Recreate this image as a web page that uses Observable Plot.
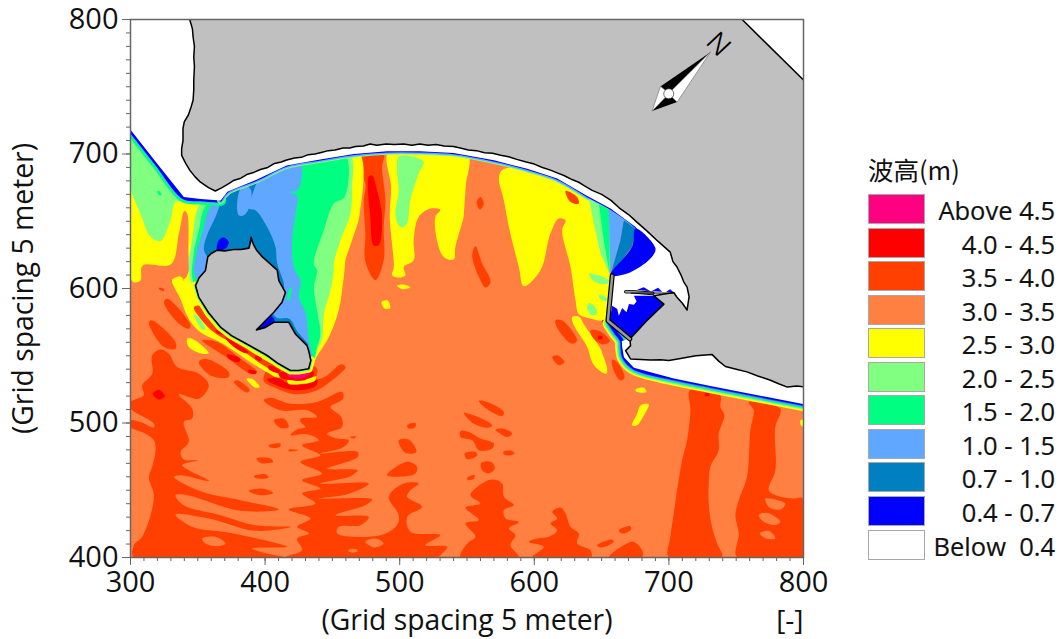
<!DOCTYPE html>
<html><head><meta charset="utf-8">
<script src="https://cdn.jsdelivr.net/npm/d3@7"></script>
<script src="https://cdn.jsdelivr.net/npm/@observablehq/plot@0.6"></script>
<style>
html,body{margin:0;padding:0;background:#fff}
#wrap{position:relative;width:1059px;height:639px;overflow:hidden;font-family:"Open Sans",sans-serif;color:#111}
#legend{position:absolute;left:868px;top:0;width:190px}
#legend .t{position:absolute;left:0;top:150px;font:25.5px "Noto Sans CJK TC","Open Sans",sans-serif;white-space:nowrap}
#legend .s{position:absolute;left:0;width:55px;height:28px;border:1px solid #a8a8a8}
#legend .l{position:absolute;right:3px;font-size:25.5px;line-height:33px;white-space:pre;-webkit-text-stroke:.2px #111}
</style></head><body><div id="wrap"><div id="legend"></div></div>
<script>
// Legend classes (wave height, m)
const legendLabels=["Above 4.5","4.0 - 4.5","3.5 - 4.0","3.0 - 3.5","2.5 - 3.0","2.0 - 2.5","1.5 - 2.0","1.0 - 1.5","0.7 - 1.0","0.4 - 0.7","Below  0.4"];
const legendColors=["#ff0080","#ff0000","#ff4000","#ff8040","#ffff00","#80ff80","#00ff80","#60a8ff","#0080c0","#0000ff","#ffffff"];
const [PINK,RED,ROR,ORG,YEL,LGR,GRN,LBL,DBL,BLU,WHT]=legendColors;
const LAND="#c0c0c0";
const xMajor=[300,400,500,600,700,800], yMajor=[400,500,600,700,800];

// Contour outlines, grid units
const domainBox=[[[300,400],[800,400],[800,800],[300,800]]];
const band35=[
[[322.3,554.7],[328.5,551.5],[334.7,541.6],[350.8,536.7],[358.2,528],[350.8,518.1],[335.9,521.3],[345.8,510.7],[345.8,503.3],[339.6,500.8],[343.3,485.9],[337.2,478.5],[339.6,472.8],[350,472.3],[338.4,468.6],[358.2,457],[337.2,461.2],[332.2,459.9],[353.2,448.8],[381.7,442.6],[410.2,435.7],[381.7,434.7],[342.1,446.3],[333.4,446.3],[339.6,438.9],[366.9,431.5],[392.8,424],[419.3,422.8],[392.8,419.8],[358.2,429],[333.4,432],[345.8,422.8],[376.8,417.9],[416.4,408],[413.9,407.5],[390.4,406.7],[401.5,403],[415.1,400],[302.5,400],[302.5,409.2],[308.7,415.4],[317.4,445.1],[313.6,459.9],[316.1,467.4],[318.6,479.7],[317.4,487.2],[311.2,492.1],[300,497],[300,502],[307.4,500.8],[317.4,496.6],[317.4,499.5],[300,510.7],[300,515.6],[309.9,520.6],[308.7,528],[316.1,536.7],[316.1,550.3]],
[[426.3,503.2],[438.6,504.5],[431.2,509.4],[411.4,509.4],[399,516.9],[404,518.8],[418.8,514.4],[438.6,515.6],[457.2,523],[458,518.1],[448.5,511.9],[456.5,504.5],[457.2,497.1],[446.1,492.1],[453.5,488.4],[462.2,487.2],[458.4,482.2],[441.1,477.3],[468.8,478.5],[468.8,474.8],[446.1,466.1],[463.4,465.6],[468.8,464.9],[463.4,460.4],[441.1,455],[477,455],[460.9,447.1],[439.9,443.8],[479.5,443.1],[474.5,438.9],[452.3,431.5],[477,430.2],[470.8,424],[454.7,422.8],[453.5,417.9],[485.7,416.6],[498,424],[499.3,431.5],[491.9,445.1],[503,455],[514.1,455],[507.9,450],[505.5,445.1],[516.6,437.7],[505.5,430.2],[508,419.1],[530.2,416.6],[519.1,409.2],[535.2,408],[531.5,403],[527.7,400],[415.1,400],[427.5,405.5],[423.8,414.1],[432.5,417.9],[423.8,422.8],[433.7,429],[417.6,435.7],[437.4,440.1],[427.5,447.6],[441.1,451.3],[427.5,457.5],[442.4,462.4],[426.3,471.1],[441.1,476],[427.5,483.4],[439.9,487.2],[431.2,491.6],[418.8,490.9],[423.8,495.1],[430,497],[426.3,500.8]],
[[406.5,502],[413.9,503.3],[417.6,497],[411,496.5]],
[[715.5,524.2],[728.4,524.8],[738.3,520.6],[738.3,511.9],[741.2,505.7],[737,492.1],[737,479.7],[730.8,467.4],[729.6,455],[729.6,440.2],[732,422.8],[735.8,410.4],[739.5,400],[699.9,400],[701.1,415.4],[703.6,432.7],[706.1,450],[709.8,472.3],[713.5,487.1],[716,509.4]],
[[759.3,515.6],[782.8,510.7],[782.8,507],[779.1,497],[779.1,464.9],[774.2,450],[782.8,445.1],[792.7,443.8],[800,443.8],[800,400],[750.6,400],[751.9,417.8],[749.4,431.4],[751.9,442.6],[758,459.9],[760.5,494.6],[763,509.4]],
[[568.7,458],[576.1,455],[577.4,445.1],[584.8,438.9],[577.4,435.2],[578.6,429],[588.5,426.5],[581.1,421.6],[586,416.6],[582.3,409.2],[588.5,400],[545.2,400],[550.2,410.4],[556.3,415.4],[548.9,425.3],[558.8,427.8],[548.9,437.1],[560,440.1],[552.6,446.3],[557.6,452.5]],
[[613.3,433.9],[619.5,437.2],[623.2,432.7],[626.9,422.8],[633.1,417.8],[631.8,410.4],[641.7,405.4],[642.2,400],[598.4,400],[607.1,408],[595.9,411.6],[602.1,414.1],[610.8,415.4],[617,420.3],[612,425.3],[617,429]],
[[655.4,400],[666.5,409.2],[673.9,411.6],[680.1,405.4],[680.1,400]],
[[646.7,409.2],[657.8,413.4],[659,411.6],[649.2,407.5]],
[[662.8,420.3],[671.4,423.3],[671.9,420.8],[665.2,417.8]],
[[560.5,470.3],[568,471],[570.7,466.1],[566,462.4],[561.3,464.9]],
[[545.2,494.1],[551.4,493.3],[560,488.4],[570,484.7],[568.7,481],[558.8,479.7],[553.9,487.1],[545.2,489.6]],
[[547.7,507.5],[555.1,505.7],[568.7,498.3],[566.2,496.6],[555.1,499.5]],
[[558.8,516.4],[565,515.6],[577.4,508.2],[576.1,505.2],[566.2,509.4]],
[[571.2,495.1],[577.4,495.8],[583.6,492.1],[579.9,489.6],[573.7,492.8]],
[[576.9,478.5],[582.3,479.7],[585.3,477.3],[581.1,475.8],[577.4,476.8]],
[[548.2,477.3],[556.3,478.5],[557.6,476],[550.2,473]],
[[550.2,459.4],[555.6,461.2],[555.1,458.7],[550.6,457.5]],
[[402.7,483.4],[411.4,484.7],[410.9,482.2],[404,481.7]],
[[417.6,480.2],[425,479.7],[417.6,479]],
[[393.6,473.6],[404,473.6],[406,471.1],[396.6,470.3]],
[[391.6,460.4],[400.3,461.9],[402.7,459.4],[394.1,458.7]],
[[387.9,449.5],[397.8,451.3],[406,448],[396.6,446.3]],
[[499.3,487.2],[506.7,487.7],[512.4,478.5],[504.2,477.8]],
[[505.5,498.3],[511.7,500],[511.7,497],[506.7,495.8]],
[[490.6,461.2],[505.5,471.1],[512.9,467.4],[511.7,462.4],[498,460]],
[[462.9,489.6],[467.8,490.1],[465.9,488.4]],
[[324.8,589.9],[327.3,592.4],[344.6,572.6],[343.3,570.1],[334.7,575]],
[[313.6,575],[316.1,576.3],[333.4,560.2],[333.4,555.2],[324.8,556.5]],
[[350.8,545.3],[355.7,547.8],[373,537.9],[373,534.2],[359.4,535.4]],
[[321,600.5],[324.8,599.8],[324.8,598],[321.8,599]],
[[353.2,561.4],[364.4,560.2],[381.7,547.8],[394.1,537.9],[390.4,536.2],[371.8,548.6]],
[[376.8,530.5],[379.2,531.7],[388.6,524.3],[386.7,522.6]],
[[399,531.2],[408.9,525.5],[423.8,521.3],[438.6,524.3],[449.8,531.7],[459.7,541.6],[456.5,543.6],[446.1,535.4],[438.6,532.9],[438.6,540.4],[433.7,542.9],[416.4,539.1],[401.5,539.1]],
[[470.3,697.8],[475.8,699.7],[488.1,699.7],[486.9,690.3],[489.4,665.6],[488.1,645.8],[488.1,621],[482,606.2],[474.5,619.8],[474.5,640.8],[473.3,665.6],[474.5,678],[467.8,692.8]],
[[560,668],[562.5,663.1],[559.6,658.7],[557.1,664.3]],
[[556.3,631.4],[561.3,618.5],[567.5,605],[563.8,600.7],[558.8,608.7],[553.9,624.8]],
[[615.7,576.3],[620.7,576.3],[631.8,561.4],[628.1,558.9],[618.2,568.8]],
[[613.3,549],[617,550.3],[622.4,545.3],[618.2,542.9]],
[[657.8,547.1],[661.5,545.3],[667,533.7],[664,531.7],[659,539.1]],
[[300,633],[303,630],[300,627]]
];
const holes30=[
[[353.2,414.1],[363.1,415.4],[370.6,410.4],[364.4,408.4],[355.7,410.4]],
[[474.5,411.7],[481.9,414.1],[488.1,410.4],[480.7,407.5]],
[[462.2,406],[468.4,406],[468.4,404.3],[462.2,404.3]],
[[771.7,443.8],[786.5,440.1],[782.8,435.7],[774.2,437.6]],
[[766.7,431.4],[772.9,433.2],[782.8,426.5],[779.1,424.1],[770.4,426.5]],
[[767.5,417.8],[774.2,419.8],[779.1,414.1],[772.9,413.9]]
];
const band40=[
[[477,683],[479.5,684.1],[483.2,673],[486.9,653.2],[484.4,632.2],[480.7,632.2],[478.2,653.2]],
[[316.6,521.8],[321.1,524.8],[325.5,519.8],[321.1,517.4]]
];
const band25=[
[[300,714],[340,667],[367,666],[392,680],[416,693],[441,698],[469.6,701],[470.3,655.6],[464.6,635.9],[459.7,621],[459,613.4],[457.2,598.6],[454.7,583.9],[447.3,563.8],[438.6,549.9],[435.7,545.5],[400,590],[346,599],[337,609],[331,606.5],[340,607],[343,612],[343,626],[342,656],[340,657.5],[336,641],[330,618],[309,617],[307.4,606],[302.5,604.7],[300,608]],
[[491.9,702],[550,701],[549,675.5],[547.7,655.8],[547.5,653.2],[541.4,631],[540.1,621.5],[532.7,623.5],[527.7,635.9],[526.5,653.2],[530.2,658.6],[522.8,659.4],[514.1,653.2],[510.4,635.9],[510.4,621],[503,616],[504.2,609.9],[499.3,608.2],[494.3,609.9],[495.6,616],[492.6,653.2],[493.6,675.5]],
[[576,688],[594.7,690],[617,683],[640.5,670],[656,661],[656,610],[654,577],[640,578],[633,581],[630.6,591.4],[626.9,616],[620.7,643.3],[623.2,650.7],[618.2,652],[612,640.8],[604.6,613.6],[592.2,601.7],[588.5,616],[581.1,645.8],[577.4,665.6],[573.7,681.7]],
[[628.1,578.7],[633.1,579.2],[637.3,572.6],[649.2,555.2],[651.1,550.3],[654.1,540.4],[653.6,536.7],[646.7,540.4],[642.9,545.3],[639.3,556.5],[633.1,566.4],[629.4,572.6]],
[[342.1,562.7],[345.8,562.7],[358.2,552],[353.2,551.5],[343.3,556.5]],
[[386.2,532.9],[390.4,532.9],[396,526.8],[392.8,526.3]],
[[498,602],[502,603],[507.9,601],[502,599.5]],
[[486.5,590],[491,591],[493,585.5],[489,585]],
[[675.1,524.8],[681.3,526.3],[683.3,523],[676.4,523]],
[[678.9,513.1],[685,513.9],[680.1,503.3],[676.4,498.3],[672.7,498.3],[676.4,506.8]],
[[797.7,502],[800,502.5],[800,497.6],[798,498.3]]
];
const swYellow=[[[331,606.5],[337.1,592.2],[343.3,577.4],[352,567.5],[364.3,561.3],[376.7,553.8],[389.1,545.2],[401.5,537.8],[410.1,533.6],[412.6,536.5],[400,565],[345,604]]];
const swStripe=[[[347,586],[353.2,576.1],[361.9,567.5],[374.2,560],[386.6,551.4],[399,542.7],[411.4,536.5],[413.8,539],[400.2,546.4],[387.8,554.3],[375.5,563.3],[365.6,570],[356.9,578.6],[350.7,587.3]]];
const swRedSpots=[
[[363.1,569.2],[368,567.5],[369.3,565.7],[364.3,566.7]],
[[370.5,563.7],[379.2,558.8],[387.8,552.6],[385.4,551.9],[374.2,558.8]],
[[392.8,550.1],[397.7,547.7],[396.5,545.9],[392.8,547.7]],
[[402.7,542.7],[411.4,539],[410.1,537.3],[402.7,540]],
[[371.8,550.9],[381.7,547.7],[380.4,545.2],[373,547.7]],
[[387.8,539.7],[393.5,538.2],[392.8,536.5],[387.8,537.8]],
[[401.5,532.2],[411.4,526.8],[423.8,524.3],[437.4,527.3],[439.1,531.7],[431.2,529.2],[418.8,528.7],[409,533.7]],
[[410,537],[436,538],[434,533],[412,533.5]],
[[650.5,576.4],[654.1,576.4],[660.3,569],[653,571]],
[[647.5,564.5],[650.5,564.5],[650.5,562.5],[647.5,562.5]],
[[727,522],[730,522],[730,520],[727,520]]
];
const crescentYellow=[[[416.4,531.7],[426.3,531.2],[438.1,534.7],[436.7,531.2],[423.8,528.7],[417.6,529.2]]];
const swGreenBlob=[[[347,580.6],[349.5,579.8],[355.7,570],[354,569.2]]];
const band20=[
[[300,712],[339.6,665.6],[333.4,664.3],[329.7,650.7],[322.3,635.4],[314.9,638.4],[307.4,655.7],[300,675.5]],
[[352,663],[367,666],[392,680],[416,693],[441,698],[463.4,699],[464.6,675.5],[463.4,655.7],[456,635.9],[451,618.6],[451,613.4],[448.5,598.5],[443.6,581.2],[442.4,563.9],[438.6,554],[435.7,546],[400,565],[348,599],[343.3,616.1],[345.8,635.9]],
[[499.3,697.8],[510.4,697.8],[517.8,694],[514.1,685.4],[507.9,665.6],[505.5,648.3],[501.8,645.3],[498.5,648.3],[496.8,655.7],[499.3,673],[498,687.9]],
[[640.5,611],[645.4,610.4],[655.4,606],[654.1,603.5],[645.4,604.7]],
[[648.7,595.6],[654.1,592.4],[652.9,590.6],[647.9,593.6]],
[[640.5,589.1],[644.2,587.4],[646.7,581.7],[643,580],[639.3,585]]
];
const band15=[
[[355.7,661],[367,666],[392,680],[416,693],[441,698],[459.7,699],[459,668],[451,663],[443.6,643.3],[436.2,618.6],[438.6,613.4],[436.2,601],[438.6,583.7],[441.1,566.3],[438.6,556.4],[434.9,546.8],[400,565],[347.5,603.7],[346.6,623.5],[350.8,643.3]],
[[320,672.5],[322,672],[323,669.5],[321,669.5]]
];
const band10=[
[[359.4,661],[367,666],[392,680],[416,693],[426.3,695],[424.3,673],[418.8,671.8],[423.8,669],[422.6,655.7],[420.1,635.9],[421.3,616],[426.3,605.8],[425,593.4],[430,582.3],[432.4,561],[434.2,548.5],[400,565],[348.3,608.6],[349,626],[353.2,640.8]]
];
const band07=[
[[368,665.6],[371.8,671.8],[394,682],[391.6,673],[387.9,659.4],[392.8,658.2],[401.5,645.8],[407.7,631],[409,618.6],[413.9,603.7],[413.4,598.7],[400,600],[357.4,623.5],[354.5,629.7],[357.4,640.8],[363.1,653.2],[366.8,663.1]],
[[404,583],[409,578],[418,577.5],[424,568],[432,558],[426,560],[418,571],[406,572]]
];
const spike10=[
[[379.2,659.4],[381.2,673],[385.4,676.7],[389.6,673],[387.9,659.4],[384.2,654.4],[380.5,654.4]]
];
const spot15=[[[416.3,592],[418.8,600.8],[420,599.6],[417.6,591]]];
const band04=[
[[364.4,628.5],[365.6,635.9],[369.3,637.9],[373,634.6],[370.6,629.7]],
[[393.6,569.2],[403.95,579.8],[407.2,575.6],[400.3,571.1]]
];
const patch35b=[
[[641.7,568.8],[649.2,568.1],[656.1,560.9],[651.6,558.4],[644.2,562.7]],
[[623.2,672.5],[631.8,668],[633,663.1],[626.9,664.3]]
];
const coastPink=[[[416.3,537.8],[433.6,537.8],[428.7,533.6],[417.5,534.5]]];

// Shorelines
const westShore=[[300,718],[320,692.5],[339.6,668],[352,666.5],[367,665.5]];
const northShore=[[367,665.5],[372,672],[394,681],[416,691.5],[441,696],[466,700],[490.7,702],[515,702],[540,700.7],[570,695.3],[594.7,689],[617,681.7],[639,669],[656.6,659.4],[675,646],[690,630]];
const southShore=[[656,574],[660,568],[665,561],[665.3,556.3],[666.6,548.8],[674,541],[703.7,533],[730.8,527.5],[800,514]];
const seaSide=[[300,800],[300,718],[320,692.5],[339.6,668],[352,666.5],[367,665.5],[372,672],[394,681],[416,691.5],[441,696],[466,700],[490.7,702],[515,702],[540,700.7],[570,695.3],[594.7,689],[617,681.7],[639,669],[656.6,659.4],[675,646],[690,630],[657.5,610],[654.5,577],[671,562.5],[665,561],[665.3,556.3],[666.6,548.8],[674,541],[703.7,533],[730.8,527.5],[800,514],[800,800]];

// North-east fan and harbour
const fan20=[[[640.5,666.8],[655.4,658.7],[656,610.6],[649.2,626],[644.2,648.3]]];
const fan15=[[[648,662.6],[655.4,658.7],[656,640.8],[656,610.6],[651.6,635.9]]];
const fan10=[[[655.3,658.2],[666.5,650.7],[664,635.9],[656.6,609.9],[655.8,638.4]]];
const fan07=[[[666.5,650.7],[675.1,644.5],[672.7,631],[656.6,609.9],[664,635.9]]];
const fan04=[[[675.1,644.5],[690,629.7],[686.3,622.3],[669,611.1],[656.6,609.9],[672.7,631]]];
const harbour04=[
[[657.9,587.2],[656.1,576.3],[671,562.5],[696.3,588.4],[688.8,594.6],[674,594.6],[676,590.4],[674,588],[670.3,588.4],[668.5,582.3],[665.3,585.5],[662.8,579.8],[661.6,584.7]],
[[676.4,599],[681.3,601],[686.3,598]],[[687,598],[692,600.5],[695,597.5]],[[698,597.5],[701,599.5],[703.5,597]]
];

// Land
const coastMain=[[344,800],[346,793],[346.5,787],[347.5,780],[347,772],[347.5,765],[347,755],[347,748],[346.5,740],[345,735],[343,729],[340,724],[339,719],[339,710],[338,704],[338,699],[341,693],[344,688],[348,683],[352,679],[358,675],[363,672.5],[368,675],[373,678],[377,680.5],[382,682],[387,685],[392,686.5],[396.5,688.5],[402,690],[407,693],[412,694],[416,695.5],[422,697],[427,697.5],[432,699.5],[437,700],[441,701],[447,702.5],[452,703],[458,704.5],[463,704.5],[467,705.5],[473,706],[478,707.5],[483,706.5],[490,707.5],[496,707],[503,707.5],[509,706.5],[515,707.5],[521,706.5],[527,707],[533,706],[540,705.5],[545,704.5],[551,703],[557,702.5],[563,701],[569,700.5],[575,699],[581,698],[587,696],[594,694],[600,692.5],[606,690],[612,688],[617,686],[622,684],[628,681],[633,679],[637,676.5],[643,673],[650,670],[657,665.5],[663,660],[670,655],[676,649.5],[684,642.5],[692,635],[701,627],[703,620],[706,616],[709,610],[711,605],[713.5,601],[715,594],[713.5,584],[710,589],[706,593.5],[703.6,597],[688.8,594.6],[696.3,588.4],[683,575.5],[671,562.5],[671.5,557.5],[667.8,553.8],[671.5,547.6],[686.4,546.9],[693.7,547],[700,546.5],[708.6,548],[720,550],[732,551],[737,546],[742,542],[750,540],[758,538],[766,535],[775,532],[782,529],[788,526.7],[795,527.5],[800,527]];
const coastEast=[[800,755],[754.4,800]];
const island=[[357.4,623.5],[360,626],[364.4,628.5],[370,628],[376.7,629],[382,629],[388,630],[389,634],[389.6,638],[390.5,635],[391.7,632],[394,628],[398,623.5],[403,619],[409,613.6],[410.2,605.8],[415.1,597.1],[412.6,589.7],[406.5,582.3],[401.5,577.3],[393.6,569.2],[400.3,571.1],[406.5,574.9],[417.6,574.9],[422.5,566.2],[431.2,557.5],[432.4,553.8],[434,546.5],[432.4,540.3],[425,539],[418.8,539],[410,544],[401.5,550.2],[393,555],[384,560],[375,565],[366.8,571.3],[358,582],[350.7,593.6],[348.3,602.2],[351,608],[355.7,613.4]];
const swCoast=[[348.3,602.2],[350.7,593.6],[358,582],[366.8,571.3],[375,565],[384,560],[393,555],[401.5,550.2],[410,544],[418.8,539],[425,539],[432.4,540.3],[434,546.5]];
const breakwater=[[657.9,609.5],[654.7,576.1],[671,562.5]];
const jetty=[[668,597.6],[672,597.6],[688,596.4]];
const jettyEnd=[[672,596.6],[703.6,596.6]];

// Compass
const needleBlack=[[[730.8,775.7],[693.7,750.2],[699.9,744.8]],[[687.5,731.9],[706.1,738.6],[699.9,744.8]]];
const needleWhite=[[[730.8,775.7],[706.1,738.6],[699.9,744.8]],[[693.7,750.2],[687.5,731.9],[699.9,744.8]]];
const compassHub=[[699.9,744.8]];
const compassN=[{x:736.5,y:781.4,t:"N"}];

const rows=polys=>polys.flatMap((pts,id)=>pts.map(([x,y])=>({x,y,id})));
const area=(polys,fill,curve="catmull-rom-closed")=>Plot.line(rows(polys),{x:"x",y:"y",z:"id",fill,stroke:"none",curve,clip:"frame"});
const path=(pts,stroke,strokeWidth,curve="linear")=>Plot.line(pts,{x:d=>d[0],y:d=>d[1],stroke,strokeWidth,curve,clip:"frame"});
const S="catmull-rom", L="linear-closed";

const chart=Plot.plot({
  width:1059,height:639,marginLeft:130,marginRight:256,marginTop:19,marginBottom:82,
  style:{fontFamily:'"Open Sans",sans-serif',background:"transparent",color:"#111"},
  x:{domain:[300,800]},y:{domain:[400,800]},
  marks:[
    area(domainBox,ORG,L),
    area(band35,ROR),area(holes30,ORG),area(band40,RED),
    area(swYellow,YEL),area(swStripe,ROR),area(swGreenBlob,LGR),
    area(band25,YEL),area(band20,LGR),area(band15,GRN),area(band10,LBL),area(band07,DBL),area(spike10,LBL),area(spot15,GRN),area(band04,BLU),
    area(patch35b,ROR),
    area(swRedSpots,RED),area(crescentYellow,YEL),area(coastPink,PINK),
    path(swCoast,YEL,8),path(swCoast,LGR,4),
    path(westShore,GRN,11,S),path(westShore,LBL,6,S),path(westShore,BLU,4.6,S),
    path(northShore,LGR,7,S),path(northShore,LBL,5,S),path(northShore,BLU,2.2,S),
    path(southShore,YEL,14,S),path(southShore,LGR,11,S),path(southShore,GRN,8.5,S),path(southShore,LBL,6.5,S),path(southShore,DBL,4.5,S),path(southShore,BLU,3,S),
    area([seaSide],WHT,L),
    area(fan20,LGR,L),area(fan15,GRN,L),area(fan10,LBL,L),area(fan07,DBL,L),area(fan04,BLU),
    area(harbour04,BLU,L),
    area([[...coastMain,[800,527],[800,755],[754.4,800]]],LAND,L),
    area([island],LAND,L),
    path(coastMain,"#000",1.5),path(coastEast,"#000",1.5),
    Plot.line([...island,island[0]],{x:d=>d[0],y:d=>d[1],stroke:"#000",strokeWidth:1.6}),
    path(breakwater,"#000",5),path(breakwater,"#999",2.6),
    path(jetty,"#000",3.6),path(jetty,"#999",1.8),path(jettyEnd,"#000",1),
    area(needleBlack,"#000",L),
    Plot.line(rows(needleWhite),{x:"x",y:"y",z:"id",fill:"#fff",stroke:"#777",strokeWidth:.7,curve:L}),
    Plot.dot(compassHub,{x:d=>d[0],y:d=>d[1],r:5,fill:"#fff",stroke:"#333",strokeWidth:.7}),
    Plot.text(compassN,{x:"x",y:"y",text:"t",rotate:47,fontSize:27,fill:"#000",fontFamily:"Inter,sans-serif",fontWeight:300}),
    Plot.axisX({ticks:d3.range(300,801,10),tickSize:4,tickFormat:null,text:null,stroke:"#666",label:null}),
    Plot.axisY({ticks:d3.range(400,801,10),tickSize:4,tickFormat:null,text:null,stroke:"#666",label:null}),
    Plot.axisX({ticks:xMajor,tickSize:8,tickPadding:6,fontSize:29,stroke:"#666",fill:"#111",fontWeight:500,tickFormat:d=>d,label:"(Grid spacing 5 meter)",labelAnchor:"center",labelArrow:"none",labelOffset:72}),
    Plot.axisY({ticks:yMajor,tickSize:8,tickPadding:4,fontSize:29,stroke:"#666",fill:"#111",fontWeight:500,tickFormat:d=>d,label:"(Grid spacing 5 meter)",labelAnchor:"center",labelArrow:"none",labelOffset:118}),
    Plot.text(["[-]"],{frameAnchor:"bottom-right",text:d=>d,dy:72,fontSize:28,textAnchor:"end",fill:"#111"}),
    Plot.frame({stroke:"#666",strokeWidth:1.5})
  ]
});
d3.select(chart).selectAll('[aria-label="y-axis label"] text,[aria-label="x-axis label"] text').style("font-size","28.3px").style("font-weight","500");
const wrap=document.getElementById("wrap");wrap.prepend(chart);
const lg=document.getElementById("legend");
lg.innerHTML='<div class="t">波高(m)</div>'+legendLabels.map((t,i)=>{
  const y=194+i*33.55;
  return `<div class="s" style="top:${y}px;background:${legendColors[i]}"></div><div class="l" style="top:${y}px">${t}</div>`;
}).join("");
</script></body></html>
